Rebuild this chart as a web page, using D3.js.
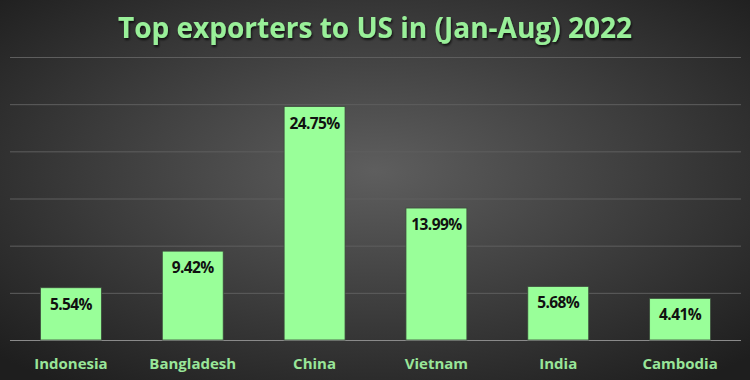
<!DOCTYPE html>
<html>
<head>
<meta charset="utf-8">
<script src="https://cdn.jsdelivr.net/npm/d3@7"></script>
<style>
  body { margin: 0; background: #2b2b2b; }
  svg text { font-family: "Open Sans", sans-serif; font-weight: bold; }
</style>
</head>
<body>
<div id="chart"></div>
<script>
// data
const countries = ['Indonesia', 'Bangladesh', 'China', 'Vietnam', 'India', 'Cambodia'];
const shares = [5.54, 9.42, 24.75, 13.99, 5.68, 4.41];
const gridTicks = [0, 5, 10, 15, 20, 25, 30];

const width = 750, height = 380;
const plotLeft = 10, plotRight = 741, plotTop = 57, plotBottom = 340;

const svg = d3.select('#chart').append('svg')
    .attr('width', width)
    .attr('height', height);

// dark radial background
const grad = svg.append('defs').append('radialGradient')
    .attr('id', 'bg')
    .attr('cx', '50%').attr('cy', '45%').attr('r', '70%');
grad.append('stop').attr('offset', '0%').attr('stop-color', '#5e5e5e');
grad.append('stop').attr('offset', '100%').attr('stop-color', '#1e1e1e');

svg.append('rect')
    .attr('width', width)
    .attr('height', height)
    .attr('fill', 'url(#bg)');

const x = d3.scaleBand()
    .domain(countries)
    .range([plotLeft, plotRight])
    .paddingInner(0.5)
    .paddingOuter(0.25);

const y = d3.scaleLinear()
    .domain([0, 30])
    .range([plotBottom, plotTop]);

// gridlines
svg.append('g')
    .selectAll('line')
    .data(gridTicks)
    .join('line')
    .attr('x1', plotLeft)
    .attr('x2', plotRight)
    .attr('y1', d => y(d) + 0.5)
    .attr('y2', d => y(d) + 0.5)
    .attr('stroke', d => d === 0 ? '#8a8a8a' : '#5e5e5e')
    .attr('stroke-width', 1);

// bars
svg.append('g')
    .selectAll('rect')
    .data(shares)
    .join('rect')
    .attr('x', (d, i) => x(countries[i]))
    .attr('y', d => y(d))
    .attr('width', x.bandwidth())
    .attr('height', d => plotBottom - y(d))
    .attr('fill', '#99ff99')
    .attr('stroke', '#3c4a3c')
    .attr('stroke-width', 0.8);

// value labels inside the top of each bar
svg.append('g')
    .selectAll('text')
    .data(shares)
    .join('text')
    .attr('x', (d, i) => x(countries[i]) + x.bandwidth() / 2)
    .attr('y', d => y(d) + 22)
    .attr('text-anchor', 'middle')
    .attr('font-size', 15.5)
    .attr('letter-spacing', -0.6)
    .attr('fill', '#111')
    .text(d => d.toFixed(2) + '%');

// category labels
svg.append('g')
    .selectAll('text')
    .data(countries)
    .join('text')
    .attr('x', d => x(d) + x.bandwidth() / 2)
    .attr('y', 369)
    .attr('text-anchor', 'middle')
    .attr('font-size', 15)
    .attr('fill', '#99e699')
    .text(d => d);

// title with a soft shadow
const shadow = svg.append('filter').attr('id', 'shadow')
    .attr('x', '-10%').attr('y', '-30%').attr('width', '120%').attr('height', '160%');
shadow.append('feDropShadow')
    .attr('dx', 1).attr('dy', 2).attr('stdDeviation', 1.2)
    .attr('flood-color', '#000').attr('flood-opacity', 0.7);

svg.append('text')
    .attr('x', 375)
    .attr('y', 38)
    .attr('text-anchor', 'middle')
    .attr('font-size', 28)
    .attr('fill', '#99f099')
    .attr('filter', 'url(#shadow)')
    .text('Top exporters to US in (Jan-Aug) 2022');
</script>
</body>
</html>
